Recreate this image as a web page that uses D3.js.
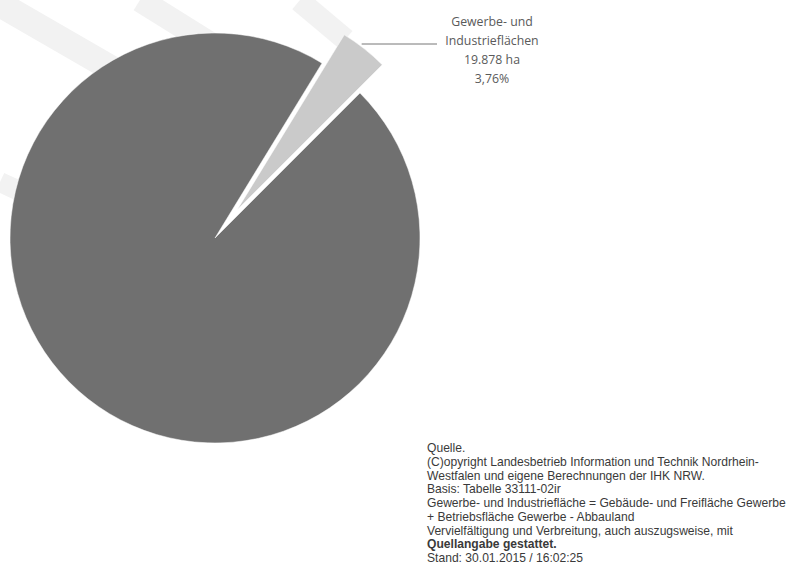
<!DOCTYPE html>
<html>
<head>
<meta charset="utf-8">
<script src="https://cdn.jsdelivr.net/npm/d3@7"></script>
<style>
  body { margin: 0; background: #fff; }
  .lbl { font-family: "Open Sans", "Noto Sans", sans-serif; font-size: 12.3px; fill: #5a5a5a; }
  .src { font-family: "Liberation Sans", Arial, sans-serif; font-size: 12.1px; fill: #3a3a3a; }
</style>
</head>
<body>
<script>
var width = 792, height = 578;

// data
var categories = ["Übrige Fläche", "Gewerbe- und Industrieflächen"];
var shares = [96.24, 3.76];
var labelLines = ["Gewerbe- und", "Industrieflächen", "19.878 ha", "3,76%"];
var sourceLines = [
  "Quelle.",
  "(C)opyright Landesbetrieb Information und Technik Nordrhein-",
  "Westfalen und eigene Berechnungen der IHK NRW.",
  "Basis: Tabelle 33111-02ir",
  "Gewerbe- und Industriefläche = Gebäude- und  Freifläche Gewerbe",
  "+ Betriebsfläche Gewerbe - Abbauland",
  "Vervielfältigung und Verbreitung, auch auszugsweise, mit",
  "Quellangabe gestattet.",
  "Stand: 30.01.2015 / 16:02:25"
];
var colors = ["#707070", "#cacaca"];

var svg = d3.select("body").append("svg")
            .attr("width", width).attr("height", height);

// faint scan watermark bands
var bands = svg.append("g").attr("fill", "#f2f2f2");
bands.append("rect").attr("x", -20).attr("y", -13).attr("width", 150).attr("height", 26)
     .attr("transform", "translate(10,10) rotate(30)");
bands.append("rect").attr("x", 0).attr("y", -12).attr("width", 90).attr("height", 24)
     .attr("transform", "translate(140,0) rotate(32)");
bands.append("rect").attr("x", 0).attr("y", -10).attr("width", 60).attr("height", 22)
     .attr("transform", "translate(300,0) rotate(40)");
bands.append("rect").attr("x", 0).attr("y", -10).attr("width", 30).attr("height", 20)
     .attr("transform", "translate(0,182) rotate(25)");

var cx = 215, cy = 238, radius = 205, explode = 36;
var start = 45 * Math.PI / 180;

var data = d3.pie().sort(null)
             .startAngle(start).endAngle(start + 2 * Math.PI)
             .value(function(d){ return d; })(shares);

var segments = d3.arc().innerRadius(0).outerRadius(radius);

var pie = svg.append("g").attr("transform", "translate(" + cx + "," + cy + ")");
pie.selectAll("path").data(data).enter().append("path")
   .attr("d", segments)
   .attr("fill", function(d, i){ return colors[i]; })
   .attr("stroke", "#fff").attr("stroke-width", 0.5)
   .attr("transform", function(d, i){
       if (i == 0) return null;
       var a = (d.startAngle + d.endAngle) / 2;
       return "translate(" + (explode * Math.sin(a)) + "," + (-explode * Math.cos(a)) + ")";
   });

// leader line + label for the small slice
var sl = data[1];
var mid = (sl.startAngle + sl.endAngle) / 2;
var lx0 = cx + explode * Math.sin(mid) + (radius - 4) * Math.sin(mid);
var ly0 = 44;
svg.append("line").attr("x1", lx0).attr("y1", ly0).attr("x2", 437).attr("y2", ly0)
   .attr("stroke", "#777").attr("stroke-width", 1);

var lbl = svg.append("text").attr("class", "lbl").attr("text-anchor", "middle");
labelLines.forEach(function(t, i){
    lbl.append("tspan").attr("x", 492).attr("y", 26 + i * 19).text(t);
});

// source note
var src = svg.append("text").attr("class", "src");
sourceLines.forEach(function(t, i){
    src.append("tspan").attr("x", 427).attr("y", 452 + i * 13.75)
       .attr("font-weight", i == 7 ? "bold" : null)
       .text(t);
});
</script>
</body>
</html>
